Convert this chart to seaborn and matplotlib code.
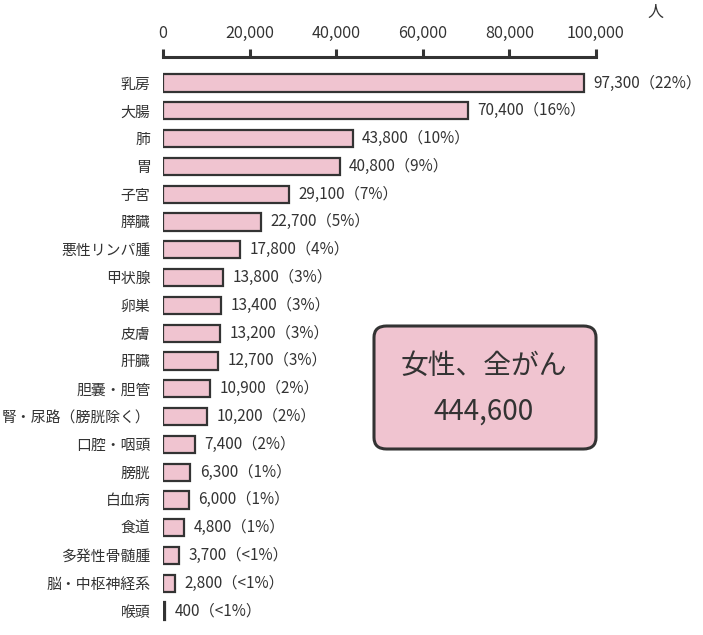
import pandas as pd
import matplotlib
matplotlib.use('Agg')
import matplotlib.pyplot as plt
import seaborn as sns
from matplotlib.patches import FancyBboxPatch

sites = ['乳房', '大腸', '肺', '胃', '子宮', '膵臓', '悪性リンパ腫', '甲状腺', '卵巣', '皮膚',
         '肝臓', '胆嚢・胆管', '腎・尿路（膀胱除く）', '口腔・咽頭', '膀胱', '白血病', '食道',
         '多発性骨髄腫', '脳・中枢神経系', '喉頭']
cases = [97300, 70400, 43800, 40800, 29100, 22700, 17800, 13800, 13400, 13200,
         12700, 10900, 10200, 7400, 6300, 6000, 4800, 3700, 2800, 400]
shares = ['22%', '16%', '10%', '9%', '7%', '5%', '4%', '3%', '3%', '3%',
          '3%', '2%', '2%', '2%', '1%', '1%', '1%', '<1%', '<1%', '<1%']
total_label = '女性、全がん'
total_cases = 444600

df = pd.DataFrame({'site': sites, 'cases': cases, 'share': shares})

sns.set_theme(style='white')
plt.rcParams['font.family'] = ['Noto Sans CJK JP', 'DejaVu Sans']

ink = '#333333'
pink = '#f0c4d0'

fig = plt.figure(figsize=(7.03, 6.35), dpi=100)
ax = fig.add_axes([163 / 703, 1 - 625 / 635, (596 - 163) / 703, (625 - 57) / 635])

sns.barplot(data=df, x='cases', y='site', orient='h', color=pink, saturation=1,
            edgecolor=ink, linewidth=1.6, width=0.62, ax=ax)

# value + share labels at the end of each bar
for i, row in df.iterrows():
    ax.text(row.cases + 2200, i, f'{row.cases:,}（{row.share}）', va='center', ha='left',
            fontsize=11.0, color=ink)

ax.set_xlim(0, 100000)
ax.set_ylim(19.5, -0.935)
ax.set_xticks(range(0, 100001, 20000))
ax.set_xticklabels([f'{v:,}' for v in range(0, 100001, 20000)], fontsize=11.6, color=ink)
ax.xaxis.tick_top()
ax.tick_params(axis='x', direction='out', length=6, width=2.2, color=ink, pad=5, top=True, bottom=False)
ax.tick_params(axis='y', length=0, pad=9, labelsize=10.7, labelcolor=ink)
ax.set_xlabel('')
ax.set_ylabel('')
for side in ['bottom', 'left', 'right']:
    ax.spines[side].set_visible(False)
ax.spines['top'].set_linewidth(2.2)
ax.spines['top'].set_color(ink)
ax.set_facecolor('none')

fig.text(655 / 703, 1 - 12 / 635, '人', ha='center', va='center', fontsize=11.5, color=ink)

# total box
box = FancyBboxPatch((374 / 703, 1 - 449 / 635), (596 - 374) / 703, (449 - 326) / 635,
                     boxstyle='round,pad=0,rounding_size=0.018', transform=fig.transFigure,
                     facecolor=pink, edgecolor=ink, linewidth=2.2)
fig.patches.append(box)
fig.text(484 / 703, 1 - 366 / 635, total_label, ha='center', va='center', fontsize=20, color=ink)
fig.text(484 / 703, 1 - 412 / 635, f'{total_cases:,}', ha='center', va='center', fontsize=20, color=ink)

fig.savefig('out.png', dpi=100)
